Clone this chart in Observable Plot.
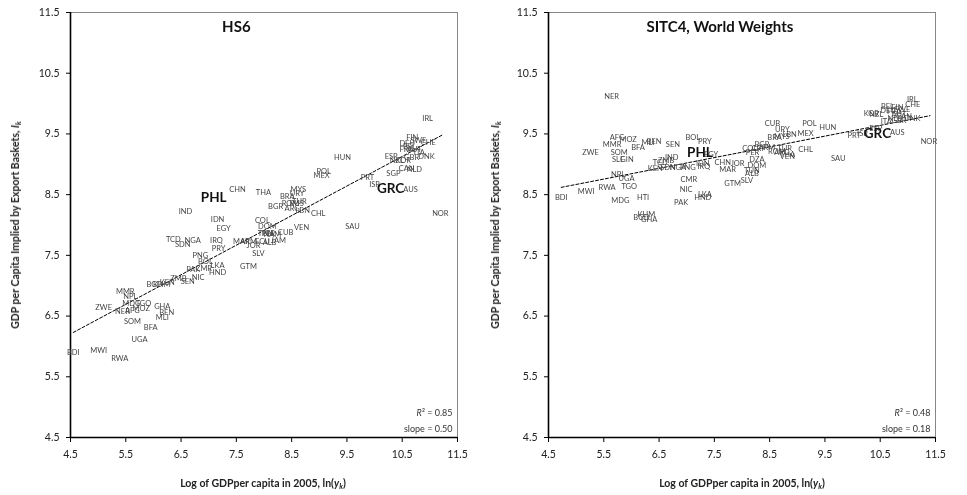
<!DOCTYPE html>
<html><head><meta charset="utf-8">
<script src="https://cdn.jsdelivr.net/npm/d3@7"></script>
<script src="https://cdn.jsdelivr.net/npm/@observablehq/plot@0.6"></script>
<style>
body{margin:0;background:#fff;}
#wrap{position:relative;width:967px;height:495px;overflow:hidden;font-family:Lato,"Open Sans",sans-serif;}
.panel{position:absolute;top:0;will-change:transform;}
.ytitle{position:absolute;font-weight:bold;font-size:10.5px;white-space:nowrap;transform:translate(-50%,-50%) rotate(-90deg);color:#222;}
.xtitle{position:absolute;font-weight:bold;font-size:10.5px;white-space:nowrap;transform:translate(-50%,-50%);color:#222;}
sub{font-size:0.72em;vertical-align:-0.25em;line-height:0;}
</style></head>
<body><div id="wrap"></div>
<script>
// Axis ticks (both panels)
const tickValues = [4.5, 5.5, 6.5, 7.5, 8.5, 9.5, 10.5, 11.5];
const highlighted = ["PHL", "GRC"];

// Panel 1: HS6
const hs6Codes = ["IRL","FIN","SWE","CHE","DEU","BEL","FRA","AUT","ITA","GBR","DNK","ESP","NZL","KOR","CAN","NLD","SGP","PRT","ISR","GRC","AUS","NOR","SAU","HUN","POL","MEX","CHN","THA","MYS","URY","BRA","TUR","ROM","RUS","BGR","ARG","LBN","CHL","PHL","IND","IDN","EGY","COL","DOM","VEN","CUB","TUN","PER","NAM","MAR","ARM","ECU","ALB","JAM","JOR","SLV","GTM","TCD","NGA","SDN","IRQ","PRY","PNG","BOL","PAK","CMR","LKA","HND","NIC","ZMB","SEN","KEN","BGD","KHM","MMR","NPL","MDG","TGO","ZWE","MOZ","NER","AFG","GHA","BEN","MLI","SOM","BFA","UGA","BDI","MWI","RWA"];
const hs6X = [10.96,10.68,10.79,10.97,10.59,10.63,10.58,10.72,10.81,10.67,10.94,10.30,10.40,10.52,10.58,10.72,10.34,9.87,10.00,10.29,10.65,11.19,9.60,9.42,9.08,9.04,7.52,7.99,8.62,8.60,8.42,8.64,8.48,8.59,8.21,8.51,8.70,8.98,7.09,6.58,7.16,7.27,7.97,8.06,8.68,8.39,8.03,8.08,8.15,7.59,7.72,7.97,8.10,8.26,7.81,7.90,7.72,6.36,6.71,6.53,7.14,7.18,6.85,6.94,6.72,6.91,7.16,7.16,6.81,6.45,6.62,6.25,6.02,6.15,5.49,5.58,5.60,5.82,5.10,5.78,5.44,5.62,6.16,6.24,6.16,5.62,5.95,5.75,4.55,5.01,5.39];
const hs6Y = [9.75,9.44,9.39,9.36,9.34,9.29,9.24,9.24,9.19,9.11,9.13,9.13,9.06,9.06,8.93,8.91,8.85,8.78,8.67,8.60,8.58,8.19,7.97,9.11,8.88,8.81,8.58,8.53,8.58,8.52,8.47,8.39,8.35,8.35,8.30,8.27,8.24,8.19,8.45,8.22,8.09,7.94,8.07,7.97,7.96,7.88,7.86,7.86,7.84,7.73,7.73,7.73,7.71,7.74,7.66,7.53,7.32,7.76,7.74,7.68,7.74,7.61,7.50,7.40,7.27,7.28,7.33,7.22,7.13,7.12,7.07,7.05,7.02,7.02,6.90,6.82,6.71,6.71,6.64,6.62,6.57,6.59,6.66,6.56,6.48,6.41,6.31,6.11,5.90,5.93,5.80];
const hs6TrendX = [4.55, 11.22];
const hs6TrendY = [6.23, 9.48];
const hs6Stats = {r2: "0.85", slope: "0.50"};

// Panel 2: SITC4, World Weights
const sitcCodes = ["NER","AFG","MOZ","MMR","MLI","BEN","BFA","ZWE","SOM","SLE","GIN","SEN","BOL","PRY","PHL","EGY","IND","ZMB","TCD","SDN","NGA","PNG","KEN","IDN","IRQ","CHN","MAR","JOR","NPL","UGA","RWA","TGO","MWI","BDI","CMR","NIC","GTM","HTI","MDG","LKA","HND","PAK","KHM","BGD","GHA","CUB","POL","URY","HUN","LBN","BRA","MYS","MEX","BGR","COL","CRI","PER","ARM","TUR","ROM","ARG","THA","VEN","CHL","SAU","DZA","DOM","TUN","ALB","SLV","PRT","ISR","GRC","AUS","NOR","ESP","ITA","NZL","KOR","BEL","DEU","FRA","FIN","SWE","AUT","NLD","CAN","GBR","DNK","IRL","CHE"];
const sitcX = [5.64,5.74,5.94,5.65,6.30,6.41,6.12,5.26,5.78,5.76,5.92,6.75,7.11,7.33,7.24,7.44,6.73,6.63,6.52,6.66,6.84,7.02,6.43,7.29,7.31,7.65,7.74,7.92,5.76,5.91,5.56,5.96,5.18,4.73,7.04,6.99,7.83,6.21,5.80,7.33,7.29,6.90,6.27,6.18,6.32,8.55,9.22,8.73,9.55,8.86,8.59,8.72,9.15,8.36,8.14,8.28,8.19,8.45,8.77,8.63,8.72,8.82,8.82,9.15,9.74,8.27,8.27,8.18,8.18,8.09,10.03,10.18,10.45,10.81,11.38,10.42,10.61,10.43,10.34,10.63,10.64,10.75,10.81,10.90,10.84,10.77,10.93,10.84,11.08,11.08,11.09];
const sitcY = [10.12,9.44,9.41,9.33,9.36,9.37,9.28,9.19,9.19,9.08,9.08,9.33,9.44,9.37,9.19,9.16,9.11,9.06,9.03,8.95,8.95,8.95,8.93,9.01,8.96,9.03,8.91,9.01,8.83,8.77,8.62,8.63,8.55,8.45,8.75,8.58,8.68,8.45,8.40,8.50,8.45,8.37,8.17,8.12,8.09,9.67,9.67,9.57,9.61,9.49,9.44,9.46,9.51,9.33,9.26,9.26,9.19,9.28,9.26,9.21,9.19,9.16,9.13,9.24,9.09,9.08,8.98,8.90,8.85,8.73,9.47,9.51,9.51,9.52,9.37,9.59,9.70,9.82,9.84,9.95,9.89,9.87,9.93,9.90,9.82,9.75,9.79,9.72,9.75,10.07,9.98];
const sitcTrendX = [4.73, 11.40];
const sitcTrendY = [8.62, 9.80];
const sitcStats = {r2: "0.48", slope: "0.18"};

function makePanel(cfg) {
  const pts = cfg.codes.map((c, i) => ({code: c, x: cfg.xs[i], y: cfg.ys[i]}));
  const trend = cfg.tx.map((x, i) => ({x, y: cfg.ty[i]}));
  const fmt = d => d.toFixed(1);
  const svg = Plot.plot({
    width: cfg.width, height: 495,
    marginLeft: 70, marginRight: cfg.marginRight, marginTop: 12, marginBottom: 58,
    style: {fontFamily: "Lato, 'Open Sans', sans-serif", fontSize: "10.5px", color: "#222", background: "transparent", overflow: "visible"},
    x: {domain: [4.5, 11.5]},
    y: {domain: [4.5, 11.5]},
    marks: [
      Plot.ruleY([11.5], {stroke: "#888", strokeWidth: 1}),
      Plot.ruleX([11.5], {stroke: "#888", strokeWidth: 1}),
      Plot.axisX({ticks: tickValues, tickFormat: fmt, tickSize: 5, tickPadding: 8, label: null, stroke: "#000"}),
      Plot.axisY({ticks: tickValues, tickFormat: fmt, tickSize: 4, tickPadding: 7, label: null, stroke: "#000"}),
      Plot.ruleX([4.5], {stroke: "#000", strokeWidth: 1.6}),
      Plot.ruleY([4.5], {stroke: "#000", strokeWidth: 1.6}),
      Plot.line(trend, {x: "x", y: "y", stroke: "#000", strokeWidth: 1, strokeDasharray: "3,2"}),
      Plot.text(pts.filter(d => !highlighted.includes(d.code)), {x: "x", y: "y", text: "code", fontSize: 7.5, fill: "#444"}),
      Plot.text(pts.filter(d => highlighted.includes(d.code)), {x: "x", y: "y", text: "code", fontSize: 13.5, fontWeight: "bold", fill: "#111"}),
      Plot.text([cfg.title], {x: [cfg.titleX], y: [11.25], text: d => d, fontSize: 15, fontWeight: "bold", fill: "#111"}),
      Plot.text([`R² = ${cfg.stats.r2}`], {frameAnchor: "bottom-right", dx: -5, dy: -22, textAnchor: "end", lineAnchor: "bottom", fontSize: 9, fill: "#333"}),
      Plot.text([`slope = ${cfg.stats.slope}`], {frameAnchor: "bottom-right", dx: -5, dy: -6, textAnchor: "end", lineAnchor: "bottom", fontSize: 9, fill: "#333"})
    ]
  });
  // italic R in R²
  d3.select(svg).selectAll("text").filter(function() { return this.textContent.startsWith("R²"); })
    .each(function() {
      const t = this.textContent;
      this.textContent = "";
      d3.select(this).append("tspan").attr("font-style", "italic").text("R");
      d3.select(this).append("tspan").text(t.slice(1));
    });
  svg.classList.add("panel");
  svg.style.left = cfg.left + "px";
  return svg;
}

const wrap = document.getElementById("wrap");
wrap.appendChild(makePanel({codes: hs6Codes, xs: hs6X, ys: hs6Y, tx: hs6TrendX, ty: hs6TrendY, stats: hs6Stats,
  title: "HS6", titleX: 7.5, width: 483, marginRight: 26, left: 0}));
wrap.appendChild(makePanel({codes: sitcCodes, xs: sitcX, ys: sitcY, tx: sitcTrendX, ty: sitcTrendY, stats: sitcStats,
  title: "SITC4, World Weights", titleX: 7.6, width: 489, marginRight: 32, left: 478}));

const yTitle = 'GDP per Capita Implied by Export Baskets, <i>I<sub>k</sub></i>';
const xTitle = 'Log of GDPper capita in 2005, ln(<i>y<sub>k</sub></i>)';
[[15, 225, yTitle, "ytitle"], [495, 225, yTitle, "ytitle"], [263, 483, xTitle, "xtitle"], [742, 483, xTitle, "xtitle"]]
  .forEach(([l, t, html, cls]) => {
    const d = document.createElement("div");
    d.className = cls; d.style.left = l + "px"; d.style.top = t + "px"; d.innerHTML = html;
    wrap.appendChild(d);
  });
</script>
</body></html>
